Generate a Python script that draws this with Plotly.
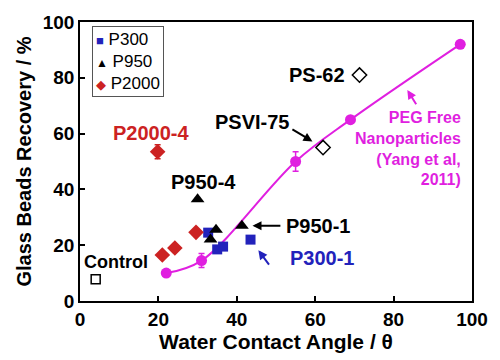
import plotly.graph_objects as go

# ---- data ----
peg_x = [22, 31, 55, 69, 97]
peg_y = [10, 14.5, 50, 65, 92]
peg_err = [0, 2.5, 3.5, 0, 0]

p300_x = [32.7, 35.0, 36.5, 43.5]
p300_y = [24.5, 18.5, 19.5, 22.0]

p950_x = [30.0, 34.7, 33.3, 41.3]
p950_y = [36.5, 25.5, 22.0, 27.0]

p2000_x = [19.8, 21.0, 24.2, 29.6]
p2000_y = [53.5, 16.5, 19.0, 24.6]
p2000_err = [2.5, 0, 0, 0]

control_x = [4.0]
control_y = [7.8]

open_dia_x = [62.0, 71.3]
open_dia_y = [55.0, 81.0]

legend_names = ["P300", "P950", "P2000"]
peg_lines = ["PEG Free", "Nanoparticles", "(Yang et al,", "2011)"]

FONT = "Liberation Sans, Arial, sans-serif"
BLUE = "#2222BB"
RED = "#CC2222"
MAG = "#E01FE0"

fig = go.Figure()

fig.add_trace(go.Scatter(
    x=peg_x, y=peg_y, mode="lines+markers", showlegend=False, name="PEG Free",
    line=dict(color=MAG, width=2, shape="spline", smoothing=1.0),
    marker=dict(color=MAG, size=11, symbol="circle"),
    error_y=dict(type="data", array=peg_err, color=MAG, thickness=1.5, width=3),
))
fig.add_trace(go.Scatter(
    x=p300_x, y=p300_y, mode="markers", name=legend_names[0], showlegend=False,
    marker=dict(color=BLUE, size=10, symbol="square"),
))
fig.add_trace(go.Scatter(
    x=p950_x, y=p950_y, mode="markers", name=legend_names[1], showlegend=False,
    marker=dict(color="black", size=12, symbol="triangle-up"),
))
fig.add_trace(go.Scatter(
    x=p2000_x, y=p2000_y, mode="markers", name=legend_names[2], showlegend=False,
    marker=dict(color=RED, size=12, symbol="diamond"),
    error_y=dict(type="data", array=p2000_err, color=RED, thickness=1.5, width=3),
))
fig.add_trace(go.Scatter(
    x=control_x, y=control_y, mode="markers", showlegend=False, name="Control",
    marker=dict(color="white", size=9, symbol="square", line=dict(color="black", width=1.5)),
))
fig.add_trace(go.Scatter(
    x=open_dia_x, y=open_dia_y, mode="markers", showlegend=False, name="PS",
    marker=dict(color="white", size=11, symbol="diamond", line=dict(color="black", width=1.5)),
))

# ---- legend (compact, boxed) ----
sym = [("■", BLUE, 13), ("▲", "black", 12), ("◆", RED, 13)]
leg_rows = []
for (s, c, fs), n in zip(sym, legend_names):
    leg_rows.append(f"<span style='color:{c};font-size:{fs}px'>{s}</span> {n}")
fig.add_annotation(
    xref="paper", yref="paper", x=0.03, y=0.985, xanchor="left", yanchor="top",
    showarrow=False, align="left", text="<br>".join(leg_rows),
    bordercolor="#555", borderwidth=1, borderpad=3, bgcolor="white",
    font=dict(family=FONT, size=17, color="black"),
)

# ---- labels ----
def label(x, y, text, color="black", xanchor="center", size=20, align="center"):
    fig.add_annotation(x=x, y=y, text=text, showarrow=False, xanchor=xanchor, align=align,
                       font=dict(family=FONT, size=size, color=color, weight="bold"))

label(9.3, 14.0, "Control", size=18)
label(18.0, 60.3, "P2000-4", RED)
label(31.5, 42.5, "P950-4")
label(43.75, 64.0, "PSVI-75")
label(60.5, 81.0, "PS-62")
label(52.0, 27.0, "P950-1", xanchor="left")
label(53.0, 15.5, "P300-1", BLUE, xanchor="left")
label(97.6, 54.5, "<br>".join(peg_lines), MAG, xanchor="right", size=16, align="right")

def arrow(hx, hy, tx, ty, color="black"):
    fig.add_annotation(x=hx, y=hy, ax=tx, ay=ty, axref="x", ayref="y", xref="x", yref="y",
                       text="", showarrow=True, arrowhead=2, arrowsize=0.9, arrowwidth=2,
                       arrowcolor=color)

arrow(44.0, 27.0, 51.5, 27.0)
arrow(59.3, 57.2, 53.8, 61.8)
arrow(45.5, 18.2, 48.5, 12.5, BLUE)
arrow(83.5, 75.6, 86.0, 70.0, MAG)

axis_common = dict(
    showline=True, linecolor="black", linewidth=1.5, mirror=True,
    ticks="inside", ticklen=5, tickwidth=1.5, tickcolor="black",
    showgrid=False, zeroline=False,
    tickfont=dict(family=FONT, size=19, color="black", weight="bold"),
)

fig.update_layout(
    width=500, height=360,
    margin=dict(l=80, r=19, t=19, b=56),
    paper_bgcolor="white", plot_bgcolor="white",
    xaxis=dict(range=[0, 100], dtick=20,
               title=dict(text="Water Contact Angle / θ", standoff=4,
                          font=dict(family=FONT, size=21, color="black", weight="bold")),
               **axis_common),
    yaxis=dict(range=[0, 100], dtick=20,
               title=dict(text="Glass Beads Recovery / %", standoff=6,
                          font=dict(family=FONT, size=20, color="black", weight="bold")),
               **axis_common),
    showlegend=False,
)

fig.write_html("out.html")
